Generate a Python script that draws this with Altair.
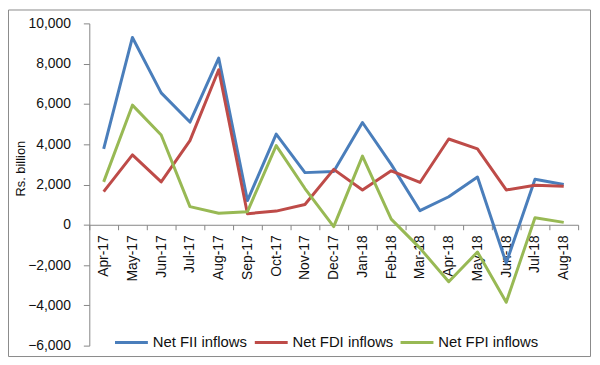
import altair as alt
import pandas as pd

months = ["Apr-17", "May-17", "Jun-17", "Jul-17", "Aug-17", "Sep-17", "Oct-17", "Nov-17",
          "Dec-17", "Jan-18", "Feb-18", "Mar-18", "Apr-18", "May-18", "Jun-18", "Jul-18", "Aug-18"]
series_names = ["Net FII inflows", "Net FDI inflows", "Net FPI inflows"]
fii = [3770, 9300, 6550, 5100, 8280, 1200, 4500, 2590, 2650, 5080, 3000, 700, 1390, 2370, -1900, 2260, 2000]
fdi = [1650, 3470, 2130, 4180, 7700, 550, 680, 1010, 2750, 1730, 2680, 2100, 4260, 3770, 1730, 1960, 1910]
fpi = [2130, 5940, 4460, 900, 570, 650, 3930, 1800, -90, 3410, 280, -1160, -2830, -1350, -3850, 350, 120]
colors = ["#4A7EBB", "#BE4B48", "#98B954"]
y_ticks = [-6000, -4000, -2000, 0, 2000, 4000, 6000, 8000, 10000]

rows = []
for name, vals in zip(series_names, [fii, fdi, fpi]):
    for m, v in zip(months, vals):
        rows.append({"Month": m, "Series": name, "Value": v})
df = pd.DataFrame(rows)

W, H = 493, 325
FONT = "Liberation Sans"
zero_offset = -(H - H * 10000 / 16000)

lines = alt.Chart(df).mark_line(strokeWidth=3, strokeJoin="round").encode(
    x=alt.X("Month:N", sort=months, bandPosition=0.5,
            scale=alt.Scale(type="band", domain=months, paddingInner=0, paddingOuter=0),
            axis=alt.Axis(title=None, labelAngle=270, tickBand="extent", offset=zero_offset,
                          domainColor="#868686", tickColor="#868686", tickSize=5,
                          labelPadding=5, labelFontSize=14, labelFont=FONT, labelColor="#111",
                          labelAlign="right", labelBaseline="middle")),
    y=alt.Y("Value:Q", scale=alt.Scale(domain=[-6000, 10000], nice=False, zero=False),
            axis=alt.Axis(title="Rs. billion", values=y_ticks, format=",.0f", grid=False,
                          domainColor="#868686", tickColor="#868686", tickSize=6,
                          labelPadding=13, labelFontSize=14, labelFont=FONT, labelColor="#111",
                          titleFont=FONT, titleFontSize=13, titleFontWeight="normal",
                          titleColor="#111", titleAngle=270, titleX=-69, titleY=146,
                          titleAlign="center", titleBaseline="middle")),
    color=alt.Color("Series:N", sort=series_names,
                    scale=alt.Scale(domain=series_names, range=colors),
                    legend=alt.Legend(title=None, orient="none", direction="horizontal",
                                      legendX=24, legendY=303, symbolType="stroke",
                                      symbolSize=1100, symbolStrokeWidth=3,
                                      labelFont=FONT, labelFontSize=15, labelColor="#111",
                                      labelOffset=3, columnPadding=0, labelLimit=200)),
    order=alt.Order("Series:N"),
)

frame_data = alt.Data(values=[{"a": 1}])
edge = dict(stroke="#8a8a8a", strokeWidth=1)
left = alt.Chart(frame_data).mark_rule(**edge).encode(
    x=alt.value(-81.5), y=alt.value(-13.5), y2=alt.value(336))
right = alt.Chart(frame_data).mark_rule(**edge).encode(
    x=alt.value(505.5), y=alt.value(-13.5), y2=alt.value(336))
top = alt.Chart(frame_data).mark_rule(**edge).encode(
    x=alt.value(-81.5), x2=alt.value(505.5), y=alt.value(-13.5))
bottom = alt.Chart(frame_data).mark_rule(**edge).encode(
    x=alt.value(-81.5), x2=alt.value(505.5), y=alt.value(336))

chart = alt.layer(left, right, top, bottom, lines).properties(
    width=W, height=H,
    autosize=alt.AutoSizeParams(type="none"),
    padding={"left": 82, "top": 14, "right": 14, "bottom": 14},
    background="white",
).configure_view(stroke=None)

chart.save("out.html", embed_options={"renderer": "svg", "actions": False})
